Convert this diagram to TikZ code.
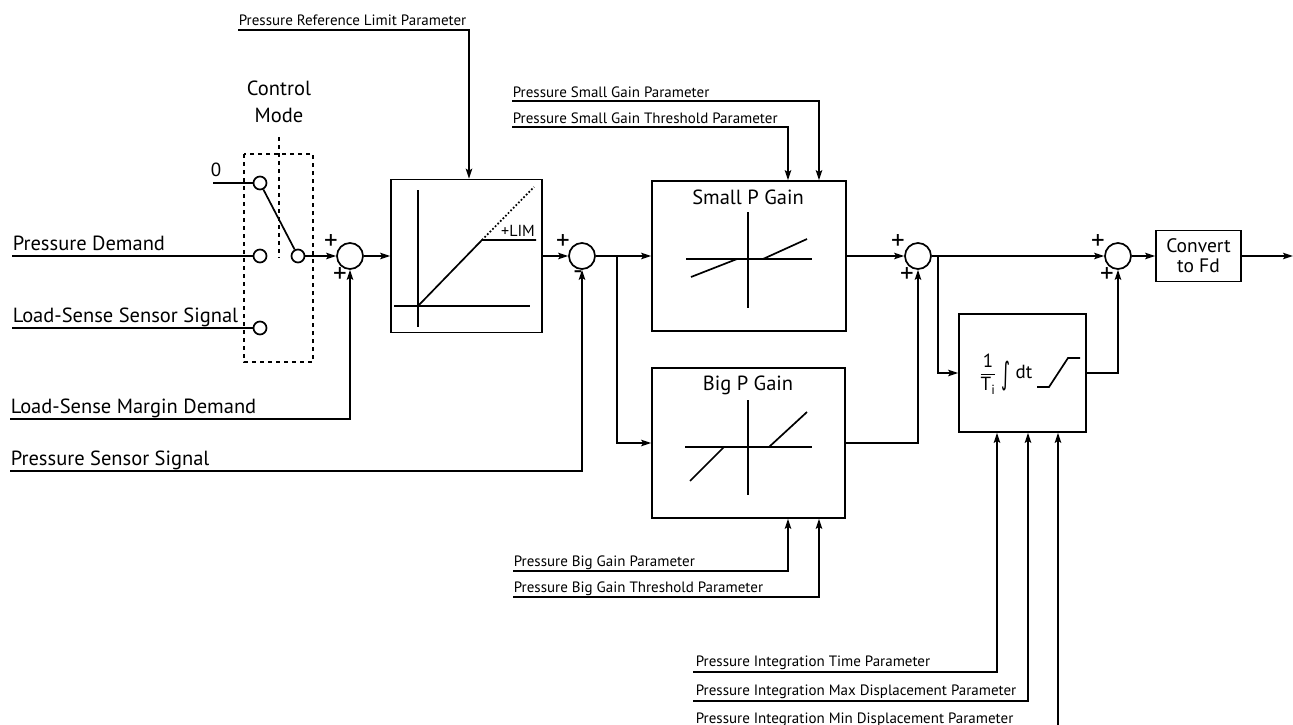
\documentclass[tikz,border=0pt]{standalone}
\usepackage{amsmath}
\usepackage{fontspec}
\setmainfont{PT Sans}
\newfontfamily\symfont{DejaVu Sans}
\usetikzlibrary{shapes}
\usetikzlibrary{arrows.meta}

\begin{document}
\begin{tikzpicture}[x=1pt,y=-1pt,line width=1.7pt,
			>={Stealth[length=10pt,width=6.5pt,inset=2pt]},
			sum/.style={circle,draw,minimum size=26pt,inner sep=0pt},
			contact/.style={circle,draw,minimum size=13pt,inner sep=0pt},
			blk/.style={rectangle,draw,inner sep=0pt},
			biglbl/.style={font=\fontsize{20.5}{27}\selectfont,inner sep=0pt},
			parlbl/.style={font=\fontsize{15}{17}\selectfont,inner sep=0pt,anchor=base west},
			sign/.style={font=\fontsize{27}{27}\selectfont,inner sep=0pt}
			]
			\useasboundingbox (0,0) rectangle (1293,725);
			% control mode switch
			\node[biglbl,align=center] (mode) at (279,102) {Control\\Mode};
			\draw[dash pattern=on 4pt off 4pt,line width=1.4pt] (244,154) rectangle (313,362);
			\draw[dash pattern=on 4pt off 4pt,line width=1.4pt] (279,137) -- (279,258);
			\node[contact] (c0) at (260,183) {};
			\node[contact] (c1) at (260,256) {};
			\node[contact] (c2) at (260,328) {};
			\node[contact] (cout) at (298,256) {};
			\draw (c0) -- (cout);
			\node[biglbl,font=\fontsize{19}{20}\selectfont] (zero) at (216,170) {0};
			\coordinate (zin) at (213,183);
			\draw (zin) -- (c0);
			\node[biglbl,anchor=base west] (pdlbl) at (12,250) {Pressure Demand};
			\coordinate (pdin) at (12,256);
			\draw (pdin) -- (c1);
			\node[biglbl,anchor=base west] (lsslbl) at (12,322) {Load-Sense Sensor Signal};
			\coordinate (lssin) at (12,328);
			\draw (lssin) -- (c2);
			% first sum and limiter
			\node[sum] (s1) at (350,256) {};
			\node[sign] at ([shift={(-19,-14)}]s1) {+};
			\node[sign] at ([shift={(-10,19)}]s1) {+};
			\draw[->] (cout) -- (s1);
			\node[biglbl,anchor=base west] (lsmlbl) at (10,413) {Load-Sense Margin Demand};
			\coordinate (lsmin) at (10,419);
			\draw[->] (lsmin) -| (s1.south);
			\node[blk,minimum width=151pt,minimum height=153pt] (lim) at (466.5,256) {};
			\draw[->] (s1) -- (lim);
			\node[parlbl] (rlplbl) at (238,26) {Pressure Reference Limit Parameter};
			\coordinate (rlpin) at (238,30);
			\draw[->] (rlpin) -| ([xshift=2.5pt]lim.north);
			\draw (418,190) -- (418,327);
			\draw (394,306) -- (530,306);
			\draw (418,306) -- (482,240) -- (536,240);
			\draw[dotted] (482,240) -- (534,187);
			\node[font=\fontsize{16}{16}\selectfont,inner sep=0pt] (limtxt) at (518,231) {+LIM};
			% second sum and gains
			\node[sum] (s2) at (582,256) {};
			\node[sign] at ([shift={(-19,-14)}]s2) {+};
			\node[sign] at ([shift={(-4,19)}]s2) {-};
			\draw[->] (lim) -- (s2);
			\node[biglbl,anchor=base west] (psslbl) at (10,465) {Pressure Sensor Signal};
			\coordinate (pssin) at (10,471);
			\draw[->] (pssin) -| (s2.south);
			\node[blk,minimum width=194pt,minimum height=150pt] (small) at (749,256) {};
			\node[blk,minimum width=193pt,minimum height=150pt] (big) at (748.5,443) {};
			\coordinate (j1) at (617,256);
			\draw[->] (s2) -- (small);
			\draw[->] (j1) |- (big.west);
			\node[biglbl] (smalltitle) at (748,197) {Small P Gain};
			\draw (748,212) -- (748,308);
			\draw (686,259) -- (812,259);
			\draw (691,277) -- (737,259) -- (763,259) -- (807,239);
			\node[biglbl] (bigtitle) at (748,385) {Big P Gain};
			\draw (748,400) -- (748,495);
			\draw (685,447) -- (812,447);
			\draw (690,481) -- (724,447) -- (769,447) -- (807,412);
			\node[parlbl] (sgplbl) at (512,97) {Pressure Small Gain Parameter};
			\coordinate (sgpin) at (512,101);
			\draw[->] (sgpin) -| ([xshift=70pt]small.north);
			\node[parlbl] (sgtlbl) at (512,123) {Pressure Small Gain Threshold Parameter};
			\coordinate (sgtin) at (512,127);
			\draw[->] (sgtin) -| ([xshift=39pt]small.north);
			\node[parlbl] (bgplbl) at (513,566) {Pressure Big Gain Parameter};
			\coordinate (bgpin) at (513,571);
			\draw[->] (bgpin) -| ([xshift=39.5pt]big.south);
			\node[parlbl] (bgtlbl) at (513,592) {Pressure Big Gain Threshold Parameter};
			\coordinate (bgtin) at (513,597);
			\draw[->] (bgtin) -| ([xshift=70.5pt]big.south);
			% third sum and integrator
			\node[sum] (s3) at (918,256) {};
			\node[sign] at ([shift={(-20,-14)}]s3) {+};
			\node[sign] at ([shift={(-11,19)}]s3) {+};
			\draw[->] (small) -- (s3);
			\draw[->] (big.east) -| (s3.south);
			\node[blk,minimum width=127pt,minimum height=118pt] (integ) at (1022.5,373) {};
			\coordinate (j2) at (938,256);
			\draw[->] (j2) |- (integ.west);
			\node[inner sep=0pt,font=\fontsize{19}{22}\selectfont] (frac) at (988,374) {$\dfrac{\text{1}}{\text{T}_{\text{i}}}$};
			\node[inner sep=0pt] (intsign) at (1006,376) {\resizebox*{9pt}{30pt}{\symfont ∫}};
			\node[inner sep=0pt,font=\fontsize{19}{22}\selectfont] (dtlbl) at (1024,372) {dt};
			\draw (1037,387) -- (1049,387) -- (1068,358) -- (1080,358);
			\node[parlbl] (pitlbl) at (695,666) {Pressure Integration Time Parameter};
			\coordinate (pitin) at (693,672);
			\draw[->] (pitin) -| ([xshift=-25.5pt]integ.south);
			\node[parlbl] (pimaxlbl) at (695,695) {Pressure Integration Max Displacement Parameter};
			\coordinate (pimaxin) at (693,701);
			\draw[->] (pimaxin) -| ([xshift=5.5pt]integ.south);
			\node[parlbl] (piminlbl) at (695,723) {Pressure Integration Min Displacement Parameter};
			\coordinate (piminin) at (693,730);
			\draw[->] (piminin) -| ([xshift=35.5pt]integ.south);
			% output
			\node[sum] (s4) at (1118,256) {};
			\node[sign] at ([shift={(-20,-14)}]s4) {+};
			\node[sign] at ([shift={(-11,19)}]s4) {+};
			\draw[->] (s3) -- (s4);
			\draw[->] (integ.east) -| (s4.south);
			\node[blk,minimum width=85pt,minimum height=51pt,align=center,font=\fontsize{19.5}{20}\selectfont] (conv) at (1198.5,256) {Convert\\to Fd};
			\draw[->] (s4) -- (conv);
			\coordinate (fdout) at (1293,256);
			\draw[->] (conv) -- (fdout);
\end{tikzpicture}
\end{document}
